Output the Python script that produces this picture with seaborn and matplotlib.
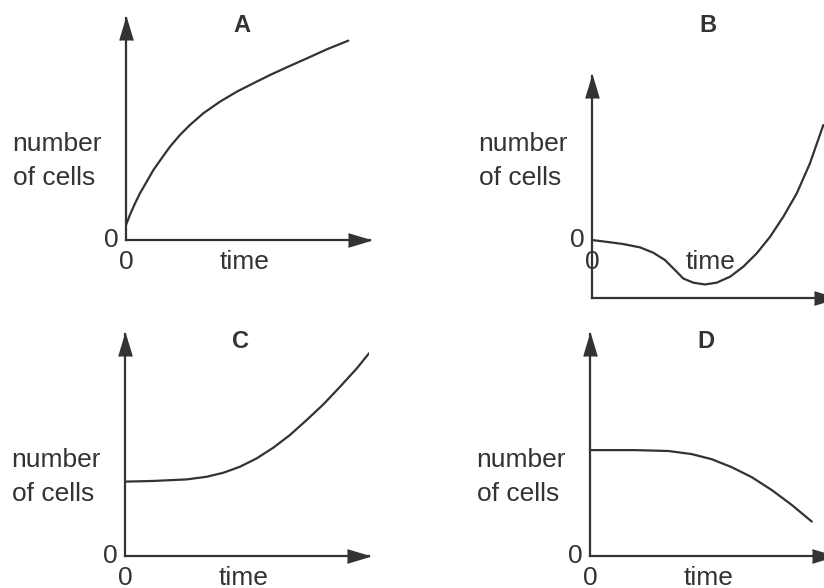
import matplotlib.pyplot as plt
import seaborn as sns

# four sketch panels: number of cells against time
letters = ["A", "B", "C", "D"]

a_time = [0, 0.16, 0.37, 0.57, 0.85, 1.12, 1.46, 1.80, 2.21, 2.62, 3.17, 3.85,
          4.54, 5.22, 5.90, 6.59, 7.41, 8.23, 9.11]
a_cells = [0.68, 1.13, 1.65, 2.10, 2.63, 3.15, 3.68, 4.20, 4.73, 5.18, 5.71, 6.23,
           6.68, 7.06, 7.43, 7.78, 8.18, 8.59, 8.98]

b_time = [0, 0.60, 1.28, 1.97, 2.51, 2.99, 3.40, 3.74, 4.15, 4.63, 5.11, 5.66,
          6.20, 6.75, 7.30, 7.84, 8.39, 8.93, 9.48]
b_cells = [0, -0.08, -0.18, -0.33, -0.57, -0.90, -1.35, -1.73, -1.92, -2.00, -1.92, -1.65,
           -1.20, -0.60, 0.15, 1.05, 2.10, 3.45, 5.18]

c_time = [0, 1.16, 2.53, 3.35, 4.03, 4.71, 5.40, 6.08, 6.76, 7.45, 8.13, 8.81, 9.50, 10.0]
c_cells = [3.35, 3.38, 3.45, 3.57, 3.75, 4.02, 4.40, 4.88, 5.45, 6.13, 6.83, 7.62, 8.45, 9.13]

d_time = [0, 1.84, 3.21, 4.17, 4.99, 5.81, 6.63, 7.45, 8.27, 9.09]
d_cells = [4.77, 4.77, 4.73, 4.59, 4.36, 4.00, 3.55, 2.97, 2.30, 1.55]

curves = [(a_time, a_cells), (b_time, b_cells), (c_time, c_cells), (d_time, d_cells)]

ink = "#333333"

sns.set_theme(style="white")
plt.rcParams["font.family"] = ["Liberation Sans", "DejaVu Sans"]

W, H = 824, 588
fig = plt.figure(figsize=(W / 100, H / 100), dpi=100)

# pixel x of the y axis, pixel y of the x axis, lower y limit
boxes = [(126, 240, 0.0), (592, 298, -2.61), (125, 556, 0.0), (590, 556, 0.0)]

head_x = [(-2, -0.6), (0, 0), (-2, 0.6)]
head_y = [(-0.6, -2), (0, 0), (0.6, -2)]

for letter, (x0, y0, ymin), (t, n) in zip(letters, boxes, curves):
    ax = fig.add_axes([x0 / W, 1 - y0 / H, 244 / W, 222 / H])
    ax.patch.set_alpha(0)
    sns.lineplot(x=t, y=n, ax=ax, color=ink, lw=1.6, sort=False, estimator=None,
                 solid_joinstyle="round")
    ax.set_xlim(0, 10)
    ax.set_ylim(ymin, ymin + 10)
    sns.despine(ax=ax)
    for side in ["left", "bottom"]:
        ax.spines[side].set_color(ink)
        ax.spines[side].set_linewidth(1.6)
    ax.set_xticks([])
    ax.set_yticks([])
    ax.set_xlabel("")
    ax.set_ylabel("")

    # arrow heads at the end of both axes
    ax.plot(1, 0, marker=head_x, ms=31.7, color=ink, ls="none",
            transform=ax.transAxes, clip_on=False)
    ax.plot(0, 1, marker=head_y, ms=31.7, color=ink, ls="none",
            transform=ax.transAxes, clip_on=False)

    ax.text(4.75, 9.65, letter, ha="center", va="center", fontsize=17,
            fontweight="bold", color=ink)
    ax.text(-4.65, 4.0, "number", ha="left", va="baseline", fontsize=19, color=ink)
    ax.text(-4.65, 2.48, "of cells", ha="left", va="baseline", fontsize=19, color=ink)
    ax.text(4.85, -1.0, "time", ha="center", va="center", fontsize=19, color=ink)
    ax.text(0, -0.97, "0", ha="center", va="center", fontsize=19, color=ink)
    ax.text(-0.3, 0, "0", ha="right", va="center", fontsize=19, color=ink)

fig.savefig("out.png", dpi=100)
